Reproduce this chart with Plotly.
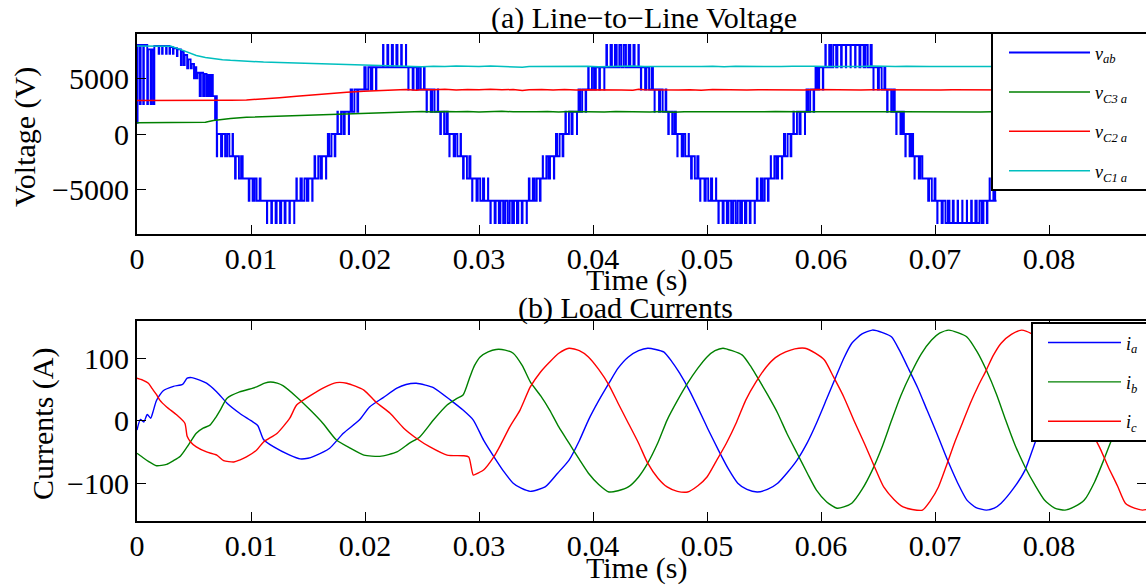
import numpy as np
import plotly.graph_objects as go

# ---------------- data (time in ms) ----------------
# line-to-line voltage: start-up transient, explicit switching edges (ms, V)
vab0_t = [0.00, 0.05, 0.25, 0.32, 0.55, 0.60, 0.90, 0.96, 1.20, 1.28, 1.45, 1.52,
          1.90, 1.95, 2.20, 2.25, 2.55, 2.60, 2.85, 2.90, 3.15, 3.20, 3.50, 3.55,
          3.85, 3.92, 4.10, 4.18, 4.40, 4.48, 4.70, 4.80, 5.00, 5.08, 5.20, 5.30,
          5.50, 5.60, 5.80, 5.92, 6.10, 6.25, 6.40, 6.55, 6.65, 6.85, 6.92]
vab0_v = [1000, 8000, 2700, 8000, 2700, 8000, 2700, 7600, 2700, 7600, 2700, 7900,
          7200, 7900, 7200, 7900, 7200, 7900, 7200, 7800, 7200, 7700, 7000, 7600,
          6200, 7400, 6200, 7100, 5900, 6700, 5900, 6300, 5000, 6000, 5000, 5500,
          3400, 5500, 3400, 5400, 3400, 5300, 3400, 5300, 3400, 1300, 3400]

# line-to-line voltage after 7 ms: local average (kV) of each 0.4 ms switching slot
vab_slot_t0 = 7.0
vab_slot_ms = 0.4
vab_avg_kv = [
    -0.3, -0.7, -1.0, -1.8, -2.6, -3.3, -4.0, -4.6, -5.1, -5.6,
    -6.0, -6.2, -6.4, -6.5, -6.5, -6.3, -6.1, -5.8, -5.4, -4.9,
    -4.3, -3.7, -3.0, -2.2, -1.4, -0.6, 0.2, 1.0, 1.8, 2.6,
    3.3, 4.0, 4.6, 5.1, 5.6, 6.0, 6.2, 6.4, 6.5, 6.5,
    6.3, 6.1, 5.8, 5.4, 4.9, 4.3, 3.7, 3.0, 2.2, 1.4,
    0.6, -0.2, -1.0, -1.8, -2.6,
    -3.5, -4.2, -4.9, -5.5, -5.9, -6.3, -6.6, -6.8, -6.9, -6.9,
    -6.7, -6.5, -6.2, -5.7, -5.2, -4.6, -3.9, -3.1, -2.3, -1.5,
    -0.7, 0.2, 1.1, 1.9, 2.7, 3.5, 4.2, 4.9, 5.5, 5.9,
    6.3, 6.6, 6.8, 6.9, 6.9, 6.7, 6.5, 6.2, 5.7, 5.2,
    4.6, 3.9, 3.1, 2.3, 1.5, 0.7, -0.2, -1.1, -1.9, -2.7,
    -3.5, -4.2, -4.9, -5.5, -5.9, -6.3, -6.6, -6.8, -6.9, -6.9,
    -6.7, -6.5, -6.2, -5.7, -5.2, -4.6, -3.9, -3.1, -2.3, -1.5,
    -0.7, 0.2, 1.1, 1.9, 2.7, 3.5,
    4.8, 5.6, 6.2, 6.8, 7.3, 7.6, 7.8, 7.9, 7.9, 7.7,
    7.4, 7.0, 6.5, 5.9, 5.2, 4.4, 3.6, 2.7, 1.7, 0.7,
    -0.3, -1.2, -2.2, -3.1, -4.0, -4.8, -5.6, -6.2, -6.8, -7.3,
    -7.6, -7.8, -7.9, -7.9, -7.7, -7.4, -7.0, -6.5, -5.9, -5.2]

# capacitor voltages (ms, V)
vc1_t = [0, 1.5, 3.0, 3.8, 4.5, 5.2, 6.0, 6.7, 7.5, 8.2, 9.6, 11.1, 12.5, 14.0, 15.5, 16.9,
         18.4, 19.9, 21.3, 22.8, 24.2, 25.0, 26.0, 27.0, 28.0, 29.0, 30.0, 31.0, 32.0, 33.0,
         33.8, 34.4, 35.5, 36.5, 37.5, 38.5, 39.5, 40.5, 41.5, 42.5, 43.5, 44.5, 45.5, 46.5,
         47.5, 48.5, 49.5, 50.5, 51.5, 52.5, 53.5, 54.5, 55.5, 56.5, 57.5, 58.5, 59.5, 60.5,
         61.5, 62.5, 63.5, 64.5, 65.5, 66.5, 67.5, 68.5, 69.5, 70.5, 71.5, 72.5, 73.5, 74.5,
         75.5, 77, 79, 81, 83, 85, 87, 88.6]
vc1_v = [7900, 7900, 7880, 7600, 7300, 7050, 6880, 6760, 6680, 6620, 6530, 6460, 6420, 6380,
         6330, 6280, 6220, 6170, 6140, 6110, 6090, 6050, 6090, 6060, 6100, 6070, 6060, 6110,
         6080, 6060, 5990, 6070, 6080, 6050, 6100, 6060, 6080, 6040, 6080, 6060, 6110, 6070,
         6060, 6100, 6050, 6080, 6060, 6090, 6050, 6080, 6060, 6100, 6070, 6060, 6090, 6060,
         6080, 6070, 6050, 6080, 6070, 6100, 6070, 6060, 6080, 6050, 6070, 6060, 6080, 6050,
         6070, 6060, 6070, 6060, 6070, 6060, 6070, 6060, 6070, 6060]
vc2_t = [0, 2, 4, 6, 7.5, 8.2, 9.6, 11.1, 12.5, 14.0, 15.5, 16.9, 18.4, 19.9, 21.3, 22.8, 23.6,
         24.5, 25.0, 26.0, 27.0, 28.0, 29.0, 30.0, 31.0, 32.0, 33.0, 33.8, 34.4, 35.5, 36.5,
         37.5, 38.5, 39.5, 40.5, 41.5, 42.5, 43.5, 44.0, 44.5, 45.5, 46.5, 47.5, 48.5, 49.5,
         50.5, 51.5, 52.5, 53.5, 54.5, 55.5, 56.5, 57.5, 58.5, 59.5, 60.5, 61.5, 62.5, 63.5,
         64.5, 65.5, 66.5, 67.5, 68.5, 69.5, 70.5, 71.5, 72.5, 73.5, 74.5, 75.5, 77, 80, 83,
         86, 88.6]
vc2_v = [3000, 3000, 2990, 3000, 3010, 3030, 3060, 3130, 3250, 3380, 3520, 3640, 3760, 3840,
         3900, 3950, 3990, 3940, 4000, 3980, 4020, 3960, 4000, 3970, 4030, 3980, 3990, 3900,
         3970, 3990, 3960, 4000, 3950, 3980, 3990, 3970, 3960, 3940, 4010, 3970, 3950, 3990,
         3960, 3970, 3940, 3990, 3960, 3970, 3950, 3980, 3960, 3990, 3950, 3960, 3990, 3970,
         3960, 3980, 3960, 3970, 3960, 3950, 3970, 3960, 3980, 3950, 3970, 3960, 3960, 3950,
         3960, 3960, 3950, 3960, 3950, 3960]
vc3_t = [0, 2, 4, 5.2, 6.0, 6.7, 7.5, 8.2, 9.6, 11.1, 12.5, 14.0, 15.5, 16.9, 18.4, 19.9, 21.3,
         22.8, 24.2, 25, 26, 27, 28, 29, 30, 31, 32, 33, 34, 35, 36, 37, 38, 39, 40, 41, 42,
         43, 44, 45, 46, 47, 48, 49, 50, 51, 52, 53, 54, 55, 56, 57, 58, 59, 60, 61, 62, 63,
         64, 65, 66, 67, 68, 69, 70, 71, 72, 73, 74, 75, 78, 82, 86, 88.6]
vc3_v = [1000, 1000, 1000, 1000, 1060, 1220, 1330, 1400, 1500, 1550, 1590, 1640, 1700, 1760,
         1800, 1850, 1900, 1950, 1970, 2010, 1980, 2030, 1990, 2020, 1980, 2000, 2040, 1990,
         2020, 1990, 2010, 1980, 2020, 1990, 2000, 1980, 2010, 1990, 2000, 1980, 2010, 1950,
         2000, 1990, 2020, 1990, 2000, 1980, 2000, 1990, 2010, 1980, 1990, 2000, 1990, 1980,
         2000, 1990, 1990, 1980, 1990, 1990, 1980, 1990, 1980, 1990, 1980, 1990, 1980, 1990,
         1980, 1990, 1980, 1990]

# load currents (ms, A)
ia_t = [0, 0.3, 0.6, 0.9, 1.2, 1.4, 1.7, 2.3, 3.2, 4.0, 4.4, 4.8, 5.5, 6.1, 7.0, 7.9, 9.0, 10.0,
        10.6, 11.1, 12.0, 13.4, 14.3, 15.0, 15.5, 16.9, 18.1, 19.5, 20.4, 21.6, 22.8, 23.6,
        24.5, 25.3, 26.0, 27.5, 28.6, 29.5, 30.4, 31.5, 32.2, 33.0, 33.7, 34.5, 35.8, 36.9,
        37.9, 38.8, 39.6, 40.5, 41.4, 42.2, 43.1, 44.0, 44.8, 45.5, 46.2, 46.9, 47.6, 48.5,
        49.3, 50.1, 51.0, 51.9, 52.7, 53.5, 54.4, 55.3, 56.2, 57.0, 57.9, 58.8, 59.6, 60.5,
        61.3, 62.0, 62.7, 63.6, 64.5, 65.4, 66.2, 66.9, 67.6, 68.5, 69.3, 70.2, 71.1, 72.0,
        72.8, 73.6, 74.5, 75.2, 75.8, 76.9, 77.9, 78.8, 80.0, 81.0, 82.0, 83.0, 84.0, 85.0,
        86.0, 87.0, 88.0, 88.6]
ia_v = [-15, 2, -2, 10, 4, 14, 32, 48, 55, 58, 68, 69, 65, 60, 46, 28, 12, 0,
        -8, -30, -42, -55, -61, -60, -57, -44, -20, 1, 22, 37, 52, 58,
        60, 57, 53, 33, 17, 1, -31, -63, -82, -100, -108, -113, -106, -84,
        -63, -32, 1, 32, 60, 84, 102, 112, 116, 114, 110, 95, 76, 47,
        17, -14, -47, -78, -100, -110, -114, -110, -100, -84, -63, -35, -4, 35,
        70, 100, 124, 139, 145, 141, 134, 112, 86, 52, 17, -22, -63, -100,
        -127, -139, -143, -140, -132, -108, -79, -34, 22, 65, 101, 127, 141, 141,
        127, 101, 65, 40]
ib_t = [0, 0.3, 0.6, 1.0, 1.7, 2.6, 3.2, 3.8, 4.4, 5.2, 5.8, 6.4, 6.9, 7.3, 7.9, 9.0, 10.5, 11.2,
        11.7, 12.3, 12.8, 14.0, 15.2, 16.3, 17.5, 18.7, 19.9, 21.3, 22.8, 23.9, 24.8, 26.0,
        27.2, 28.0, 28.6, 29.2, 29.6, 30.1, 30.8, 31.5, 32.3, 33.0, 33.8, 34.5, 35.4, 36.2,
        37.0, 37.9, 38.8, 39.6, 40.5, 41.4, 42.2, 43.1, 44.0, 44.8, 45.7, 46.5, 47.4, 48.3,
        49.2, 50.0, 50.7, 51.4, 52.2, 53.1, 53.8, 54.4, 55.3, 56.2, 57.0, 57.9, 58.8, 59.6,
        60.5, 61.4, 62.0, 62.7, 63.6, 64.5, 65.4, 66.2, 67.0, 67.9, 68.8, 69.7, 70.4, 71.2,
        72.0, 72.8, 73.7, 74.5, 75.4, 76.2, 77.0, 77.9, 78.8, 79.6, 80.5, 81.4, 82.2, 83.1,
        84.0, 84.8, 85.5, 86.2, 86.9, 87.5, 88.0, 88.6]
ib_v = [-52, -56, -60, -65, -72, -70, -64, -57, -42, -20, -12, -7, 5, 17, 36, 46, 54, 60,
        62, 60, 56, 38, 17, -4, -31, -44, -55, -57, -50, -36, -26, 1,
        25, 35, 41, 70, 88, 102, 110, 114, 113, 108, 88, 62, 40, 17,
        -10, -36, -62, -84, -102, -114, -112, -106, -90, -68, -35, 1, 32, 60,
        84, 102, 112, 116, 112, 105, 88, 70, 42, 12, -20, -52, -84, -111,
        -130, -140, -138, -132, -110, -79, -40, 1, 40, 76, 107, 129, 140, 145,
        141, 134, 110, 81, 42, 1, -38, -74, -104, -127, -140, -143, -138, -127,
        -98, -63, -30, 1, 32, 60, 80, 100]
ic_t = [0, 0.5, 1.0, 1.3, 1.7, 2.0, 2.6, 3.5, 4.2, 4.4, 4.7, 5.2, 6.1, 7.0, 7.6, 8.5, 9.0, 9.6,
        10.5, 11.1, 12.3, 13.4, 14.0, 15.2, 16.4, 17.5, 18.4, 19.9, 21.0, 22.2, 23.4, 24.5,
        25.7, 27.2, 28.6, 29.1, 29.5, 29.9, 30.4, 31.3, 31.8, 32.7, 33.6, 34.5, 35.4, 36.2,
        37.0, 37.9, 38.8, 39.6, 40.5, 41.4, 42.2, 43.1, 44.0, 44.8, 45.7, 46.5, 47.4, 48.3,
        49.2, 50.0, 50.8, 51.7, 52.6, 53.4, 54.3, 55.2, 56.0, 56.9, 57.7, 58.6, 59.5, 60.3,
        61.1, 62.0, 62.9, 63.8, 64.7, 65.5, 66.4, 67.2, 68.0, 68.9, 69.6, 70.3, 71.0, 71.7,
        72.4, 73.1, 73.8, 74.5, 75.1, 75.8, 76.7, 77.6, 78.5, 79.3, 80.2, 81.0, 82.0, 83.0,
        83.8, 84.5, 85.2, 86.0, 86.7, 87.5, 88.2, 88.6]
ic_v = [68, 65, 60, 52, 42, 33, 22, 9, -4, -25, -34, -42, -50, -55, -64, -66, -63, -58,
        -47, -34, -20, 4, 25, 40, 53, 61, 60, 49, 29, 12, -12, -28,
        -42, -55, -56, -58, -87, -84, -79, -58, -42, -10, 17, 54, 78, 94,
        108, 116, 112, 102, 82, 57, 28, -4, -36, -68, -92, -106, -113, -114,
        -104, -90, -65, -36, -2, 33, 62, 86, 101, 110, 115, 116, 108, 97,
        70, 38, 0, -36, -74, -106, -126, -138, -142, -143, -128, -106, -72, -36,
        -4, 28, 56, 81, 104, 124, 138, 145, 139, 128, 104, 78, 42, 8,
        -20, -45, -74, -104, -132, -140, -143, -142]

x_ticks = [0, 0.01, 0.02, 0.03, 0.04, 0.05, 0.06, 0.07, 0.08]
v_ticks = [-5000, 0, 5000]
i_ticks = [-100, 0, 100]

# ---------------- build the switching waveform ----------------
vab_x = [t / 1000 for t in vab0_t]
vab_y = list(vab0_v)
for k, a in enumerate(vab_avg_kv):
    s = vab_slot_t0 + k * vab_slot_ms
    lo = 2 * np.floor(a / 2 + 1e-9)
    d = (a - lo) / 2
    vab_x.append(s / 1000)
    vab_y.append(lo * 1000)
    if d > 0.01:
        vab_x += [(s + (1 - d) * vab_slot_ms / 2) / 1000, (s + (1 + d) * vab_slot_ms / 2) / 1000]
        vab_y += [(lo + 2) * 1000, lo * 1000]
vab_x.append((vab_slot_t0 + len(vab_avg_kv) * vab_slot_ms) / 1000)
vab_y.append(vab_y[-1])

ms = lambda arr: [t / 1000 for t in arr]

BLUE = "#0000ff"
GREEN = "#008000"
RED = "#ff0000"
CYAN = "#00bfbf"
FONT = "Liberation Serif"
PAD = "\u2003\u2003"   # keeps the legend box running past the right edge, as in the source

fig = go.Figure()
fig.add_trace(go.Scatter(x=vab_x, y=vab_y, mode="lines", line=dict(color=BLUE, width=1.9, shape="hv"),
                         name="<i>v<sub>ab</sub></i>" + PAD, legend="legend", legendgroup="g1",
                         xaxis="x", yaxis="y"))
fig.add_trace(go.Scatter(x=ms(vc3_t), y=vc3_v, mode="lines", line=dict(color=GREEN, width=1.5),
                         name="<i>v<sub>C3 a</sub></i>" + PAD, legend="legend", legendgroup="g2",
                         xaxis="x", yaxis="y"))
fig.add_trace(go.Scatter(x=ms(vc2_t), y=vc2_v, mode="lines", line=dict(color=RED, width=1.5),
                         name="<i>v<sub>C2 a</sub></i>" + PAD, legend="legend", legendgroup="g3",
                         xaxis="x", yaxis="y"))
fig.add_trace(go.Scatter(x=ms(vc1_t), y=vc1_v, mode="lines", line=dict(color=CYAN, width=1.5),
                         name="<i>v<sub>C1 a</sub></i>" + PAD, legend="legend", legendgroup="g4",
                         xaxis="x", yaxis="y"))

fig.add_trace(go.Scatter(x=ms(ia_t), y=ia_v, mode="lines", line=dict(color=BLUE, width=1.4, shape="spline", smoothing=0.6),
                         name="<i>i<sub>a</sub></i>" + PAD, legend="legend2", legendgroup="h1",
                         xaxis="x2", yaxis="y2"))
fig.add_trace(go.Scatter(x=ms(ib_t), y=ib_v, mode="lines", line=dict(color=GREEN, width=1.4, shape="spline", smoothing=0.6),
                         name="<i>i<sub>b</sub></i>" + PAD, legend="legend2", legendgroup="h2",
                         xaxis="x2", yaxis="y2"))
fig.add_trace(go.Scatter(x=ms(ic_t), y=ic_v, mode="lines", line=dict(color=RED, width=1.4, shape="spline", smoothing=0.6),
                         name="<i>i<sub>c</sub></i>" + PAD, legend="legend2", legendgroup="h3",
                         xaxis="x2", yaxis="y2"))

W, H = 1146, 585
axis_style = dict(showline=True, linecolor="black", linewidth=2, mirror="ticks",
                  ticks="inside", ticklen=9, tickwidth=1, tickcolor="black",
                  showgrid=False, zeroline=False,
                  tickfont=dict(family=FONT, size=30, color="black"))
xr = [0, (W - 137) / 11400.0]

fig.update_layout(
    width=W, height=H,
    margin=dict(l=0, r=0, t=0, b=0, autoexpand=False),
    paper_bgcolor="white", plot_bgcolor="white",
    font=dict(family=FONT, size=30, color="black"),
    xaxis=dict(domain=[137 / W, 1], range=xr, tickvals=x_ticks, anchor="y",
               ticklabelstandoff=-3, **axis_style),
    yaxis=dict(domain=[1 - 234.2 / H, 1 - 33.8 / H], range=[-9000, 9000], tickvals=v_ticks,
               anchor="x", ticklabelstandoff=0, **axis_style),
    xaxis2=dict(domain=[137 / W, 1], range=xr, tickvals=x_ticks, anchor="y2",
                ticklabelstandoff=-3, **axis_style),
    yaxis2=dict(domain=[1 - 520.7 / H, 1 - 320.7 / H], range=[-160, 160], tickvals=i_ticks,
                anchor="x2", ticklabelstandoff=0, **axis_style),
    legend=dict(x=991 / W, y=1 - 32.3 / H, xanchor="left", yanchor="top",
                bgcolor="white", bordercolor="black", borderwidth=2,
                font=dict(family=FONT, size=18, color="black"),
                itemwidth=81, indentation=11, tracegroupgap=13),
    legend2=dict(x=1031 / W, y=1 - 322.3 / H, xanchor="left", yanchor="top",
                 bgcolor="white", bordercolor="black", borderwidth=2,
                 font=dict(family=FONT, size=18, color="black"),
                 itemwidth=73, indentation=10, tracegroupgap=13),
    showlegend=True,
)

def note(text, x, y, angle=0):
    fig.add_annotation(text=text, x=x / W, y=1 - y / H, xref="paper", yref="paper",
                       xanchor="center", yanchor="middle", showarrow=False, textangle=angle,
                       font=dict(family=FONT, size=30, color="black"))

note("(a) Line\u2212to\u2212Line Voltage", 644, 18)
note("Time (s)", 636, 280)
note("(b) Load Currents", 625, 308)
note("Time (s)", 636, 568)
note("Voltage (V)", 24.5, 137.5, -90)
note("Currents (A)", 42.5, 424.5, -90)

fig.write_html("out.html", config={"displayModeBar": False},
               post_script="document.body.style.margin='0';document.body.style.overflow='hidden';")
